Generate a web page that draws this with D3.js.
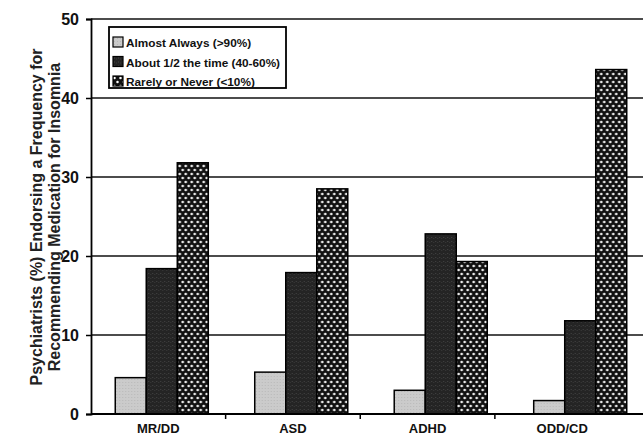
<!DOCTYPE html>
<html>
<head>
<meta charset="utf-8">
<script src="https://cdn.jsdelivr.net/npm/d3@7"></script>
<style>
  html, body { margin: 0; padding: 0; background: #fff; }
  svg { display: block; font-family: "Liberation Sans", Arial, Helvetica, sans-serif; }
</style>
</head>
<body>
<svg id="chart" width="643" height="443"></svg>
<script>
// ---- data ----
const categories = ["MR/DD", "ASD", "ADHD", "ODD/CD"];
const seriesNames = ["Almost Always (>90%)", "About 1/2 the time (40-60%)", "Rarely or Never (<10%)"];
const almostAlways = [4.6, 5.3, 3.0, 1.7];
const aboutHalf = [18.4, 17.9, 22.8, 11.8];
const rarelyNever = [31.8, 28.5, 19.3, 43.6];
const yTicks = [0, 10, 20, 30, 40, 50];
const yTitleLines = ["Psychiatrists (%) Endorsing a Frequency for", "Recommending Medication for Insomnia"];

const seriesValues = [almostAlways, aboutHalf, rarelyNever];

const svg = d3.select("#chart");
const defs = svg.append("defs");

// dotted pattern: black with white dots
const pat = defs.append("pattern").attr("id", "dots").attr("patternUnits", "userSpaceOnUse")
  .attr("width", 6).attr("height", 8);
pat.append("rect").attr("width", 6).attr("height", 8).attr("fill", "#111");
pat.append("circle").attr("cx", 1.5).attr("cy", 2).attr("r", 1.25).attr("fill", "#fff");
pat.append("circle").attr("cx", 4.5).attr("cy", 6).attr("r", 1.25).attr("fill", "#fff");

// dark noisy pattern
const patD = defs.append("pattern").attr("id", "darkfill").attr("patternUnits", "userSpaceOnUse")
  .attr("width", 4).attr("height", 4);
patD.append("rect").attr("width", 4).attr("height", 4).attr("fill", "#242424");
patD.append("rect").attr("x", 1).attr("y", 1).attr("width", 1).attr("height", 1).attr("fill", "#454545");
patD.append("rect").attr("x", 3).attr("y", 2).attr("width", 1).attr("height", 1).attr("fill", "#3a3a3a");

// light pattern
const patL = defs.append("pattern").attr("id", "lightfill").attr("patternUnits", "userSpaceOnUse")
  .attr("width", 3).attr("height", 3);
patL.append("rect").attr("width", 3).attr("height", 3).attr("fill", "#cbcbcb");
patL.append("rect").attr("x", 1).attr("y", 1).attr("width", 1).attr("height", 1).attr("fill", "#b8b8b8");

const fills = ["url(#lightfill)", "url(#darkfill)", "url(#dots)"];

const mLeft = 91, mTop = 19, mBottom = 414, mRightEdge = 643;

const y = d3.scaleLinear().domain([0, 50]).range([mBottom, mTop]);

// category label / tick scale
const xLab = d3.scaleBand().domain(categories).range([mLeft, 629.5]).padding(0);
// bar group scale (scan places bar groups slightly wider apart)
const xBar = d3.scaleBand().domain(categories).range([92, 650]).paddingInner(0.333).paddingOuter(0.1667);
const xInner = d3.scaleBand().domain(d3.range(seriesNames.length)).range([0, xBar.bandwidth()]);

// gridlines
svg.append("g").selectAll("line").data(yTicks.filter(d => d > 0)).join("line")
  .attr("x1", mLeft).attr("x2", mRightEdge)
  .attr("y1", d => y(d)).attr("y2", d => y(d))
  .attr("stroke", "#111").attr("stroke-width", 1.5);

// bars
const groups = svg.append("g").selectAll("g").data(categories).join("g")
  .attr("transform", c => `translate(${xBar(c)},0)`);
groups.selectAll("rect").data((c, ci) => seriesValues.map((vals, si) => ({si, v: vals[ci]}))).join("rect")
  .attr("x", d => xInner(d.si))
  .attr("width", xInner.bandwidth())
  .attr("y", d => y(d.v))
  .attr("height", d => y(0) - y(d.v))
  .attr("fill", d => fills[d.si])
  .attr("stroke", "#000").attr("stroke-width", 1.5);

// y axis
const yAxis = d3.axisLeft(y).tickValues(yTicks).tickSize(5).tickPadding(7).tickFormat(d3.format("d"));
const yg = svg.append("g").attr("transform", `translate(${mLeft},0)`).call(yAxis);
yg.select(".domain").attr("stroke", "#000").attr("stroke-width", 1.8);
yg.selectAll(".tick line").attr("stroke", "#000").attr("stroke-width", 1.5);
yg.selectAll(".tick text").attr("font-size", 16).attr("font-weight", "bold").attr("fill", "#111")
  .attr("font-family", "'Liberation Sans', Arial, sans-serif");

// x baseline
svg.append("line").attr("x1", mLeft).attr("x2", mRightEdge).attr("y1", y(0)).attr("y2", y(0))
  .attr("stroke", "#000").attr("stroke-width", 1.8);

// x axis ticks at category boundaries and labels
const boundaries = categories.slice(1).map(c => xLab(c));
svg.append("g").selectAll("line").data(boundaries).join("line")
  .attr("x1", d => d).attr("x2", d => d).attr("y1", y(0)).attr("y2", y(0) + 5)
  .attr("stroke", "#000").attr("stroke-width", 1.5);
const xAxis = d3.axisBottom(xLab).tickSize(0).tickPadding(10);
const xg = svg.append("g").attr("transform", `translate(0,${y(0)})`).call(xAxis);
xg.select(".domain").remove();
xg.selectAll(".tick text").attr("font-size", 13).attr("font-weight", "bold").attr("fill", "#111")
  .attr("font-family", "'Liberation Sans', Arial, sans-serif");

// y title
const yt = svg.append("text").attr("transform", `translate(42,217) rotate(-90)`)
  .attr("text-anchor", "middle").attr("font-size", 16).attr("font-weight", "bold").attr("fill", "#222");
yt.selectAll("tspan").data(yTitleLines).join("tspan")
  .attr("x", 0).attr("dy", (d, i) => i === 0 ? 0 : 18).text(d => d);

// legend
const lg = svg.append("g");
lg.append("rect").attr("x", 109).attr("y", 27).attr("width", 177).attr("height", 61)
  .attr("fill", "#fff").attr("stroke", "#000").attr("stroke-width", 1.8);
const items = lg.selectAll("g.item").data(seriesNames).join("g").attr("class", "item")
  .attr("transform", (d, i) => `translate(113,${37 + i * 19.5})`);
items.append("rect").attr("width", 10).attr("height", 10)
  .attr("fill", (d, i) => fills[i]).attr("stroke", "#000").attr("stroke-width", 1.2);
items.append("text").attr("x", 13).attr("y", 10).attr("font-size", 11.8).attr("font-weight", "bold")
  .attr("fill", "#111").text(d => d);
</script>
</body>
</html>
